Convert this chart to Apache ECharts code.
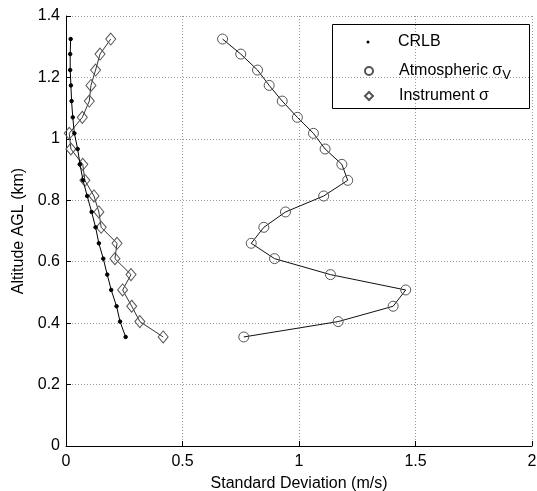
<!DOCTYPE html>
<html>
<head>
<meta charset="utf-8">
<script src="https://cdn.jsdelivr.net/npm/echarts@6/dist/echarts.min.js"></script>
<style>html,body{margin:0;padding:0;background:#fff}#c{width:537px;height:491px}</style>
</head>
<body>
<div id="c"></div>
<script>
const altitudes = [0.355, 0.405, 0.455, 0.508, 0.558, 0.61, 0.66, 0.712, 0.762, 0.814, 0.865, 0.917, 0.967, 1.018, 1.07, 1.123, 1.174, 1.224, 1.276, 1.325];
const crlb = [0.256, 0.232, 0.217, 0.194, 0.177, 0.160, 0.141, 0.127, 0.110, 0.091, 0.073, 0.060, 0.050, 0.036, 0.029, 0.024, 0.021, 0.018, 0.018, 0.020];
const atmospheric = [0.763, 1.168, 1.404, 1.458, 1.135, 0.895, 0.795, 0.849, 0.942, 1.106, 1.209, 1.184, 1.112, 1.062, 0.993, 0.928, 0.872, 0.822, 0.750, 0.672];
const instrument = [0.417, 0.317, 0.282, 0.243, 0.279, 0.210, 0.219, 0.151, 0.141, 0.120, 0.081, 0.072, 0.021, 0.014, 0.070, 0.100, 0.107, 0.127, 0.146, 0.192];
const xTicks = [0, 0.5, 1, 1.5, 2];
const yTicks = [0, 0.2, 0.4, 0.6, 0.8, 1, 1.2, 1.4];

const pairs = (xs) => xs.map((v, i) => [v, altitudes[i]]);
const font = 'Liberation Sans, Arial, sans-serif';
const FS = 16;
const gridLine = { show: true, lineStyle: { color: '#999', type: [1, 2], width: 1 } };

const chart = echarts.init(document.getElementById('c'));
const legendBase = (name, size, top, icon) => ({
  data: [{ name: name, icon: icon }],
  orient: 'vertical',
  left: 368 - size / 2,
  top: top,
  itemWidth: size, itemHeight: size,
  padding: 0,
  selectedMode: false,
  formatter: (n) => n === 'Atmospheric σV' ? '{a|Atmospheric σ}{s|V}' : n,
  textStyle: {
    fontFamily: font, fontSize: FS, color: '#000',
    padding: [0, 0, 0, 398 - (368 + size / 2) - 5],
    rich: {
      a: { fontFamily: font, fontSize: FS, color: '#000' },
      s: { fontFamily: font, fontSize: 13, color: '#000', padding: [9, 0, 0, 0] }
    }
  }
});

chart.setOption({
  animation: false,
  backgroundColor: '#fff',
  grid: { left: 66, right: 5, top: 16, bottom: 45, outerBoundsMode: 'none', containLabel: false },
  xAxis: {
    type: 'value', min: 0, max: 2, interval: 0.5,
    name: 'Standard Deviation (m/s)', nameLocation: 'middle', nameGap: 30,
    nameTextStyle: { fontFamily: font, fontSize: FS, color: '#000' },
    axisLine: { show: true, lineStyle: { color: '#000', width: 1 } },
    axisTick: { show: true, inside: true, length: 5, lineStyle: { color: '#000' } },
    axisLabel: { fontFamily: font, fontSize: FS, color: '#000', margin: 8,
      formatter: (v) => xTicks.includes(v) ? String(v) : '' },
    splitLine: gridLine
  },
  yAxis: {
    type: 'value', min: 0, max: 1.4, interval: 0.2,
    name: 'Altitude AGL (km)', nameLocation: 'middle', nameGap: 33,
    nameTextStyle: { fontFamily: font, fontSize: FS, color: '#000' },
    axisLine: { show: true, lineStyle: { color: '#000', width: 1 } },
    axisTick: { show: true, inside: true, length: 5, lineStyle: { color: '#000' } },
    axisLabel: { fontFamily: font, fontSize: FS, color: '#000', margin: 6,
      formatter: (v) => { const t = yTicks.find(y => Math.abs(y - v) < 1e-9); return t === undefined ? '' : String(t); } },
    splitLine: gridLine
  },
  legend: [
    legendBase('CRLB', 3, 34, 'circle'),
    legendBase('Atmospheric σV', 8, 63, 'circle'),
    legendBase('Instrument σ', 8, 88, 'diamond')
  ],
  graphic: [{
    type: 'rect', left: 332, top: 24, z: 0,
    shape: { width: 197, height: 84 },
    style: { fill: '#fff', stroke: '#000', lineWidth: 1 }
  }],
  series: [
    {
      name: 'CRLB', type: 'line', data: pairs(crlb),
      symbol: 'circle', symbolSize: 3.5,
      itemStyle: { color: '#000', borderColor: '#000' },
      lineStyle: { color: '#000', width: 1 }, z: 5
    },
    {
      name: 'Atmospheric σV', type: 'line', data: pairs(atmospheric),
      symbol: 'circle', symbolSize: 10,
      itemStyle: { color: 'rgba(255,255,255,0)', borderColor: '#555', borderWidth: 1 },
      lineStyle: { color: '#111', width: 1 }, z: 4
    },
    {
      name: 'Instrument σ', type: 'line', data: pairs(instrument),
      symbol: 'diamond', symbolSize: [10, 12],
      itemStyle: { color: 'rgba(255,255,255,0)', borderColor: '#555', borderWidth: 1 },
      lineStyle: { color: '#333', width: 1 }, z: 4
    }
  ]
});
</script>
</body>
</html>
